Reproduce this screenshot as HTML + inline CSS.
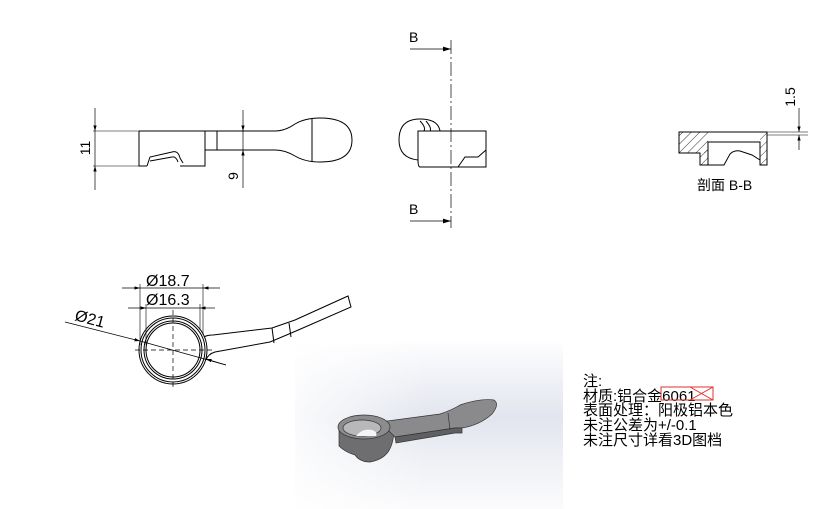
<!DOCTYPE html>
<html><head><meta charset="utf-8"><style>
body{margin:0;background:#fff;}
svg{display:block;}
text{font-family:"Liberation Sans","Noto Sans CJK SC",sans-serif;}
</style></head><body>
<svg width="815" height="509" viewBox="0 0 815 509" xmlns="http://www.w3.org/2000/svg">
<defs>
<marker id="ar" viewBox="0 0 10 6" refX="10" refY="3" markerWidth="8" markerHeight="5" orient="auto-start-reverse"><path d="M0,0L10,3L0,6z" fill="#000"/></marker>
<marker id="arB" viewBox="0 0 10 6" refX="10" refY="3" markerWidth="10" markerHeight="6" orient="auto"><path d="M0,0L10,3L0,6z" fill="#000"/></marker>
<linearGradient id="bg" x1="0" y1="0" x2="0" y2="1">
<stop offset="0" stop-color="#fdfdfe"/><stop offset="0.45" stop-color="#e2e5ee"/><stop offset="0.7" stop-color="#eef0f5"/><stop offset="1" stop-color="#fbfbfc"/></linearGradient>
<linearGradient id="bg2" x1="0" y1="0" x2="1" y2="0">
<stop offset="0" stop-color="#fff" stop-opacity="0.8"/><stop offset="0.5" stop-color="#fff" stop-opacity="0"/><stop offset="1" stop-color="#fff" stop-opacity="0"/></linearGradient>
<pattern id="hatch" width="6" height="6" patternUnits="userSpaceOnUse" patternTransform="rotate(45)"><line x1="0" y1="0" x2="0" y2="6" stroke="#000" stroke-width="0.8"/></pattern>
</defs>
<g fill="none" stroke="#000" stroke-width="1">
<!-- front view -->
<line x1="93" y1="131" x2="139" y2="131" stroke-width="0.6"/>
<line x1="93" y1="166" x2="139" y2="166" stroke-width="0.6"/>
<line x1="95" y1="108" x2="95" y2="131" marker-end="url(#ar)" stroke-width="0.7"/>
<line x1="95" y1="190" x2="95" y2="166" marker-end="url(#ar)" stroke-width="0.7"/>
<line x1="95" y1="131" x2="95" y2="166" stroke-width="0.7"/>
<path d="M139,131H275 M139,131V166H147 M205,131V165 M217,131V150 M205,150H275 M205,158V166H180 M147,166L150,157L172,152Q178,150 180,158L183,163 M150,161L172,157Q176,156 178,162"/>
<path d="M275,131Q285,131 295,124Q305,118 320,118Q352,118 352,140Q352,162 320,162Q305,162 295,156Q285,150 275,150"/>
<line x1="312" y1="119" x2="312" y2="161"/>
<line x1="243" y1="110" x2="243" y2="131" marker-end="url(#ar)" stroke-width="0.7"/>
<line x1="243" y1="188" x2="243" y2="150" marker-end="url(#ar)" stroke-width="0.7"/>
<line x1="243" y1="131" x2="243" y2="150" stroke-width="0.7"/>
<!-- side view -->
<line x1="451" y1="40" x2="451" y2="228" stroke-width="0.7" stroke-dasharray="14,3,2,3"/>
<line x1="410" y1="49" x2="451" y2="49" marker-end="url(#arB)" stroke-width="0.8"/>
<line x1="410" y1="221" x2="451" y2="221" marker-end="url(#arB)" stroke-width="0.8"/>
<path d="M418,131H486V167H420Q418,167 418,160Z"/>
<path d="M418,160Q399,158 399,140Q399,119 420,119Q438,119 440,131"/>
<path d="M420,121Q426,127 424,131 M426,121Q432,128 430,131"/>
<path d="M458,167L465,157H478L486,150"/>
<!-- section B-B -->
<path d="M679,132H767V165H760V142H708V165H700V153H679Z"/>
<rect x="679" y="132" width="29" height="21" fill="url(#hatch)" stroke="none"/>
<rect x="700" y="150" width="8" height="15" fill="url(#hatch)" stroke="none"/>
<rect x="760" y="132" width="7" height="33" fill="url(#hatch)" stroke="none"/>
<path d="M708,165H724L730,154Q734,150 740,151L752,155L760,160"/>
<line x1="767" y1="132" x2="808" y2="132" stroke-width="0.6"/>
<line x1="767" y1="135" x2="808" y2="135" stroke-width="0.6"/>
<line x1="799" y1="108" x2="799" y2="132" marker-end="url(#ar)" stroke-width="0.7"/>
<line x1="799" y1="150" x2="799" y2="135" marker-end="url(#ar)" stroke-width="0.7"/>
<!-- top view -->
<circle cx="173" cy="350" r="34"/>
<circle cx="173" cy="350" r="32"/>
<circle cx="173" cy="350" r="27"/>
<circle cx="173" cy="350" r="29"/>
<line x1="173" y1="310" x2="173" y2="388" stroke-dasharray="5,3" stroke-width="0.7"/>
<line x1="135" y1="350" x2="215" y2="350" stroke-dasharray="5,3" stroke-width="0.7"/>
<path d="M204,337Q207,335 213,335L272,328L295,320L348,296L351,307L296,331L270,342L215,352Q208,354 206,360"/>
<line x1="272" y1="328" x2="274" y2="343"/>
<line x1="289" y1="323" x2="291" y2="337"/>
<line x1="140" y1="284" x2="140" y2="345" stroke-width="0.6"/>
<line x1="203" y1="284" x2="203" y2="335" stroke-width="0.6"/>
<line x1="146" y1="304" x2="146" y2="345" stroke-width="0.6"/>
<line x1="200" y1="304" x2="200" y2="330" stroke-width="0.6"/>
<line x1="122" y1="288" x2="140" y2="288" stroke-width="0.7" marker-end="url(#ar)"/>
<line x1="220" y1="288" x2="203" y2="288" stroke-width="0.7" marker-end="url(#ar)"/>
<line x1="140" y1="288" x2="203" y2="288" stroke-width="0.7"/>
<line x1="128" y1="308" x2="146" y2="308" stroke-width="0.7" marker-end="url(#ar)"/>
<line x1="215" y1="308" x2="200" y2="308" stroke-width="0.7" marker-end="url(#ar)"/>
<line x1="146" y1="308" x2="200" y2="308" stroke-width="0.7"/>
<line x1="65" y1="322" x2="140" y2="341" stroke-width="0.7" marker-end="url(#ar)"/>
<line x1="140" y1="341" x2="226" y2="365" stroke-width="0.7"/>
<line x1="226" y1="365" x2="206" y2="359" stroke-width="0.7" marker-end="url(#ar)"/>
</g>
<g font-size="14" fill="#000">
<text transform="translate(90,148) rotate(-90)" text-anchor="middle">11</text>
<text transform="translate(238,176) rotate(-90)" text-anchor="middle">9</text>
<text x="409" y="42">B</text>
<text x="409" y="214">B</text>
<text transform="translate(795,97) rotate(-90)" text-anchor="middle">1.5</text>
<text x="697" y="190">剖面 B-B</text>
<text x="146" y="286" font-size="16">Ø18.7</text>
<text x="146" y="305" font-size="16">Ø16.3</text>
<text transform="translate(74,320) rotate(15)" font-size="16">Ø21</text>
</g>
<!-- 3D panel -->
<rect x="295" y="343" width="268" height="166" fill="url(#bg)"/>
<rect x="295" y="343" width="268" height="166" fill="url(#bg2)"/>
<g stroke="#333" stroke-width="0.7">
<!-- ring side -->
<path d="M339,428V446Q345,452 355,455Q360,462 370,462Q382,460 388,452Q393,445 394,432L390,426Z" fill="#6e6e70"/>
<!-- handle + spoon top -->
<path d="M380,422L440,414Q452,410 460,405Q480,398 494,400Q500,404 492,414Q480,425 462,428L455,428L395,437Z" fill="#8a8a8c"/>
<path d="M395,437L455,428L462,428L462,433L455,433L396,443Z" fill="#606062"/>
<line x1="448" y1="413" x2="450" y2="430"/>
<!-- ring top -->
<ellipse cx="364" cy="427" rx="26" ry="12" fill="#8c8c8e"/>
<ellipse cx="362" cy="428" rx="19" ry="8" fill="#b8b8bb"/>
<path d="M356,436Q362,428 372,430Q378,432 376,436Z" fill="#f4f5f8" stroke="none"/>
</g>
<g font-size="15" fill="#000">
<text x="583" y="386">注:</text>
<text x="583" y="401">材质:铝合金6061</text>
<text x="583" y="415">表面处理：阳极铝本色</text>
<text x="583" y="430">未注公差为+/-0.1</text>
<text x="583" y="445">未注尺寸详看3D图档</text>
</g>
<rect x="661" y="387" width="52" height="13" fill="none" stroke="#e03030" stroke-width="1"/>
<path d="M690,387L713,400M690,400L713,387" stroke="#e03030" stroke-width="1"/>
</svg>
</body></html>
